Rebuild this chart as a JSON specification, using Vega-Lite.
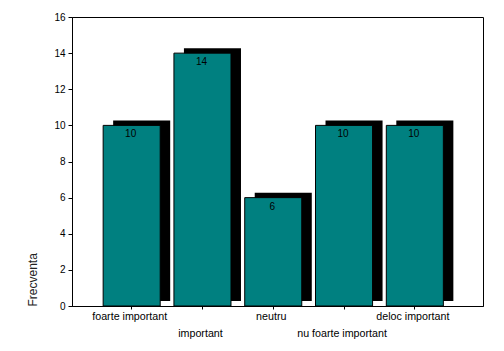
{
  "$schema": "https://vega.github.io/schema/vega-lite/v6.json",
  "width": 411,
  "height": 289,
  "autosize": {"type": "none"},
  "padding": {"left": 72, "top": 17, "right": 21, "bottom": 45},
  "background": "white",
  "config": {
    "view": {"stroke": "black", "strokeWidth": 1},
    "font": "Liberation Sans",
    "axis": {"grid": false, "domainColor": "black", "tickColor": "black", "labelColor": "black", "labelFont": "Liberation Sans", "titleFont": "Liberation Sans", "labelFontSize": 10}
  },
  "data": {"values": [
    {"categorie": "foarte important", "frecventa": 10},
    {"categorie": "important", "frecventa": 14},
    {"categorie": "neutru", "frecventa": 6},
    {"categorie": "nu foarte important", "frecventa": 10},
    {"categorie": "deloc important", "frecventa": 10}
  ]},
  "encoding": {
    "x": {
      "field": "categorie", "type": "nominal", "sort": null,
      "scale": {"paddingInner": 0.194, "paddingOuter": 0.5, "align": 0.44},
      "axis": {
        "title": null, "labelAngle": 0, "tickSize": 3, "labelPadding": 2,
        "labelFontSize": 10.7, "labelOffset": -2,
        "labelLineHeight": 17, "labelBaseline": "top",
        "labelExpr": "(datum.label == 'important' || datum.label == 'nu foarte important') ? ['', datum.label] : datum.label"
      }
    },
    "y": {
      "field": "frecventa", "type": "quantitative",
      "scale": {"domain": [0, 16], "nice": false},
      "axis": {
        "title": "Frecventa", "values": [0, 2, 4, 6, 8, 10, 12, 14, 16],
        "tickSize": 4, "labelPadding": 3, "titleAnchor": "start",
        "titleFontSize": 12, "titleFontWeight": "normal", "titleColor": "#222", "titlePadding": 14
      }
    }
  },
  "layer": [
    {"mark": {"type": "bar", "color": "black", "xOffset": 10, "x2Offset": 10, "yOffset": -5, "y2Offset": -7}},
    {"mark": {"type": "bar", "color": "#008080", "stroke": "black", "strokeWidth": 1}},
    {"mark": {"type": "text", "baseline": "top", "dy": 4, "dx": -1, "fontSize": 10, "color": "black"},
     "encoding": {"text": {"field": "frecventa", "type": "quantitative"}}}
  ]
}
